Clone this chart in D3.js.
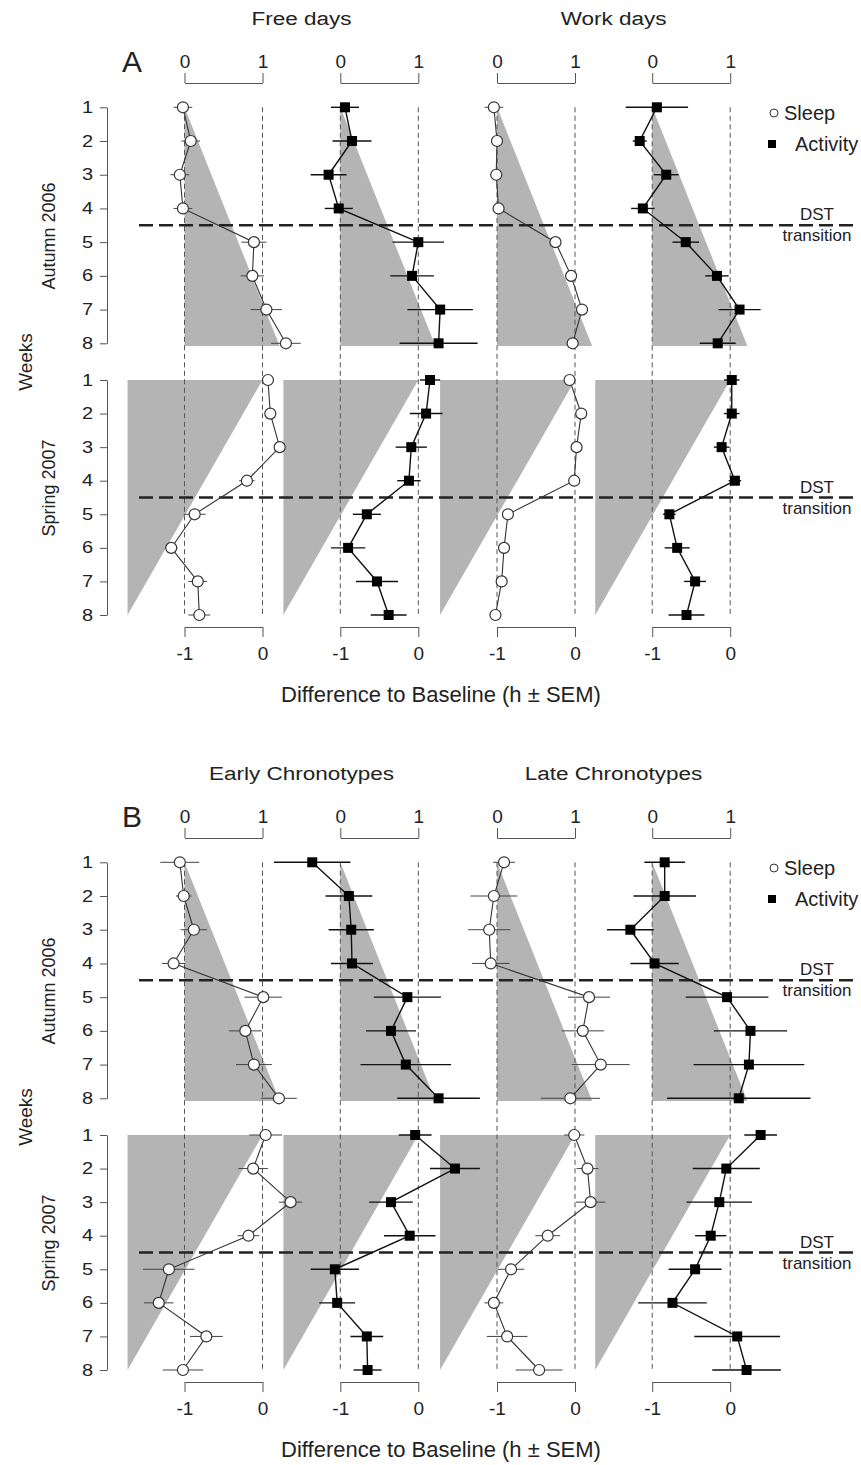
<!DOCTYPE html>
<html>
<head>
<meta charset="utf-8">
<script src="https://cdn.jsdelivr.net/npm/d3@7"></script>
<style>
  body { margin: 0; background: #fff; }
  svg { display: block; font-family: "Liberation Sans", Arial, sans-serif; }
  .tick line, .domain { stroke: #555; }
  text { fill: #222; }
</style>
</head>
<body>
<div id="chart"></div>
<script>
// weeks after baseline, one row per week
const weeks = [1, 2, 3, 4, 5, 6, 7, 8];
const panelLetters = ["A", "B"];
const panelTitles = [["Free days", "Work days"], ["Early Chronotypes", "Late Chronotypes"]];
const seasons = ["Autumn 2006", "Spring 2007"];
const topTicks = [0, 1];
const bottomTicks = [-1, 0];

// panel A -- autumn (h difference to baseline) and SEM
const aFreeSleepAut = [-0.02, 0.08, -0.06, -0.02, 0.89, 0.87, 1.05, 1.30];
const aFreeSleepAutSem = [0.12, 0.12, 0.12, 0.12, 0.16, 0.15, 0.20, 0.19];
const aFreeActAut = [0.06, 0.15, -0.15, -0.02, 1.00, 0.92, 1.28, 1.26];
const aFreeActAutSem = [0.18, 0.25, 0.23, 0.18, 0.33, 0.28, 0.42, 0.50];
const aWorkSleepAut = [-0.04, 0.00, -0.01, 0.02, 0.75, 0.95, 1.09, 0.97];
const aWorkSleepAutSem = [0.12, 0.04, 0.04, 0.05, 0.05, 0.05, 0.06, 0.05];
const aWorkActAut = [0.06, -0.16, 0.18, -0.12, 0.43, 0.83, 1.12, 0.84];
const aWorkActAutSem = [0.40, 0.09, 0.16, 0.15, 0.17, 0.15, 0.27, 0.23];
// panel A -- spring
const aFreeSleepSpr = [0.07, 0.10, 0.22, -0.20, -0.87, -1.17, -0.83, -0.81];
const aFreeSleepSprSem = [0.07, 0.06, 0.05, 0.10, 0.14, 0.08, 0.12, 0.14];
const aFreeActSpr = [0.15, 0.10, -0.09, -0.12, -0.66, -0.90, -0.53, -0.38];
const aFreeActSprSem = [0.13, 0.21, 0.20, 0.15, 0.18, 0.22, 0.27, 0.23];
const aWorkSleepSpr = [-0.07, 0.08, 0.02, -0.01, -0.86, -0.91, -0.94, -1.02];
const aWorkSleepSprSem = [0.06, 0.05, 0.04, 0.04, 0.05, 0.06, 0.07, 0.04];
const aWorkActSpr = [0.02, 0.02, -0.11, 0.06, -0.78, -0.68, -0.45, -0.56];
const aWorkActSprSem = [0.10, 0.10, 0.10, 0.08, 0.08, 0.16, 0.14, 0.23];

// panel B -- autumn
const bEarlySleepAut = [-0.06, -0.01, 0.12, -0.14, 1.01, 0.78, 0.89, 1.21];
const bEarlySleepAutSem = [0.25, 0.10, 0.17, 0.15, 0.24, 0.21, 0.23, 0.23];
const bEarlyActAut = [-0.36, 0.11, 0.14, 0.15, 0.86, 0.65, 0.84, 1.26];
const bEarlyActAutSem = [0.49, 0.30, 0.29, 0.27, 0.43, 0.32, 0.58, 0.53];
const bLateSleepAut = [0.09, -0.04, -0.10, -0.08, 1.18, 1.10, 1.33, 0.94];
const bLateSleepAutSem = [0.14, 0.30, 0.27, 0.24, 0.27, 0.27, 0.37, 0.38];
const bLateActAut = [0.16, 0.16, -0.28, 0.03, 0.96, 1.26, 1.24, 1.11];
const bLateActAutSem = [0.26, 0.40, 0.30, 0.31, 0.53, 0.47, 0.71, 0.92];
// panel B -- spring
const bEarlySleepSpr = [0.04, -0.12, 0.36, -0.18, -1.20, -1.33, -0.72, -1.02];
const bEarlySleepSprSem = [0.21, 0.19, 0.15, 0.14, 0.33, 0.19, 0.21, 0.26];
const bEarlyActSpr = [-0.04, 0.47, -0.35, -0.11, -1.07, -1.04, -0.66, -0.65];
const bEarlyActSprSem = [0.21, 0.32, 0.28, 0.33, 0.31, 0.23, 0.21, 0.18];
const bLateSleepSpr = [-0.01, 0.16, 0.20, -0.35, -0.82, -1.04, -0.87, -0.46];
const bLateSleepSprSem = [0.13, 0.14, 0.19, 0.16, 0.17, 0.12, 0.26, 0.30];
const bLateActSpr = [0.39, -0.05, -0.14, -0.25, -0.45, -0.74, 0.09, 0.21];
const bLateActSprSem = [0.21, 0.43, 0.42, 0.20, 0.34, 0.44, 0.55, 0.44];

// gray "expected shift" wedges
const autumnWedge = [[0, 1], [1.22, 8.08], [0, 8.08]];
const springWedge = [[-1.73, 1], [0, 1], [-1.73, 8]];

const panels = [
  { cols: [
    { kind: "sleep", aut: aFreeSleepAut, autSem: aFreeSleepAutSem, spr: aFreeSleepSpr, sprSem: aFreeSleepSprSem },
    { kind: "act", aut: aFreeActAut, autSem: aFreeActAutSem, spr: aFreeActSpr, sprSem: aFreeActSprSem },
    { kind: "sleep", aut: aWorkSleepAut, autSem: aWorkSleepAutSem, spr: aWorkSleepSpr, sprSem: aWorkSleepSprSem },
    { kind: "act", aut: aWorkActAut, autSem: aWorkActAutSem, spr: aWorkActSpr, sprSem: aWorkActSprSem }
  ]},
  { cols: [
    { kind: "sleep", aut: bEarlySleepAut, autSem: bEarlySleepAutSem, spr: bEarlySleepSpr, sprSem: bEarlySleepSprSem },
    { kind: "act", aut: bEarlyActAut, autSem: bEarlyActAutSem, spr: bEarlyActSpr, sprSem: bEarlyActSprSem },
    { kind: "sleep", aut: bLateSleepAut, autSem: bLateSleepAutSem, spr: bLateSleepSpr, sprSem: bLateSleepSprSem },
    { kind: "act", aut: bLateActAut, autSem: bLateActAutSem, spr: bLateActSpr, sprSem: bLateActSprSem }
  ]}
];

const W = 861, H = 1465;
const colX = [184.5, 340.3, 497, 652.2];
const unit = 78;
const panelOff = 755;

const svg = d3.select("#chart").append("svg")
  .attr("width", W).attr("height", H);
svg.append("rect").attr("width", W).attr("height", H).attr("fill", "#fff");

panels.forEach(function (panel, p) {
  const off = p * panelOff;
  const g = svg.append("g");

  const yAut = d3.scaleLinear().domain([1, 8]).range([107.3 + off, 343.3 + off]);
  const ySpr = d3.scaleLinear().domain([1, 8]).range([380 + off, 615 + off]);

  // titles + letter
  [0, 1].forEach(function (k) {
    const cx = (colX[k * 2] + colX[k * 2 + 1] + unit) / 2;
    g.append("text")
      .attr("transform", "translate(" + cx + "," + (25 + off) + ") scale(1,0.8)")
      .attr("text-anchor", "middle")
      .style("font-size", "22.5px")
      .text(panelTitles[p][k]);
  });
  g.append("text")
    .attr("x", 132).attr("y", 72 + off)
    .attr("text-anchor", "middle")
    .style("font-size", "30px")
    .text(panelLetters[p]);

  // wedges first
  colX.forEach(function (x0) {
    const xa = d3.scaleLinear().domain([0, 1]).range([x0, x0 + unit]);
    const xs = d3.scaleLinear().domain([-1, 0]).range([x0, x0 + unit]);
    g.append("path")
      .attr("d", d3.line().x(d => xa(d[0])).y(d => yAut(d[1]))(autumnWedge) + "Z")
      .attr("fill", "#b4b4b4");
    g.append("path")
      .attr("d", d3.line().x(d => xs(d[0])).y(d => ySpr(d[1]))(springWedge) + "Z")
      .attr("fill", "#b4b4b4");
  });

  // vertical reference lines
  colX.forEach(function (x0) {
    [x0, x0 + unit].forEach(function (vx) {
      g.append("line")
        .attr("x1", vx).attr("x2", vx)
        .attr("y1", yAut(1)).attr("y2", ySpr(8))
        .attr("stroke", "#555").attr("stroke-width", 1)
        .attr("stroke-dasharray", "5,3.5");
    });
  });

  // DST lines
  [yAut(4.5), ySpr(4.5)].forEach(function (ly) {
    g.append("line")
      .attr("x1", 139).attr("x2", 858)
      .attr("y1", ly).attr("y2", ly)
      .attr("stroke", "#222").attr("stroke-width", 2.5)
      .attr("stroke-dasharray", "14,6");
    g.append("text").attr("x", 817).attr("y", ly - 5)
      .attr("text-anchor", "middle").style("font-size", "17px").text("DST");
    g.append("text").attr("x", 817).attr("y", ly + 16)
      .attr("text-anchor", "middle").style("font-size", "17px").text("transition");
  });

  // axes
  colX.forEach(function (x0) {
    const xa = d3.scaleLinear().domain([0, 1]).range([x0, x0 + unit]);
    const xs = d3.scaleLinear().domain([-1, 0]).range([x0, x0 + unit]);
    const top = g.append("g")
      .attr("transform", "translate(0," + (83 + off) + ")")
      .call(d3.axisTop(xa).tickValues(topTicks).tickSize(10).tickSizeOuter(0).tickPadding(5).tickFormat(d => String(d)));
    const bot = g.append("g")
      .attr("transform", "translate(0," + (627 + off) + ")")
      .call(d3.axisBottom(xs).tickValues(bottomTicks).tickSize(10).tickSizeOuter(0).tickPadding(10).tickFormat(d => String(d)));
    [top, bot].forEach(function (ax) {
      ax.selectAll("text").style("font-size", "19px").attr("fill", "#222");
      ax.select(".domain").attr("stroke", "#555");
      ax.selectAll(".tick line").attr("stroke", "#555");
    });
  });

  [yAut, ySpr].forEach(function (ys) {
    const ax = g.append("g")
      .attr("transform", "translate(107,0)")
      .call(d3.axisLeft(ys).tickValues(weeks).tickSize(7).tickSizeOuter(0).tickPadding(7).tickFormat(d => String(d)));
    ax.selectAll("text").style("font-size", "20px").attr("fill", "#222")
      .attr("transform", "scale(1,0.8)");
    ax.select(".domain").attr("stroke", "#555");
    ax.selectAll(".tick line").attr("stroke", "#555");
  });

  // season labels
  [[seasons[0], 236], [seasons[1], 488]].forEach(function (s) {
    g.append("text")
      .attr("transform", "translate(55," + (s[1] + off) + ") rotate(-90)")
      .attr("text-anchor", "middle")
      .style("font-size", "18px")
      .text(s[0]);
  });
  g.append("text")
    .attr("transform", "translate(32," + (362 + off) + ") rotate(-90)")
    .attr("text-anchor", "middle")
    .style("font-size", "19px")
    .text("Weeks");

  g.append("text")
    .attr("x", 441).attr("y", 702 + off)
    .attr("text-anchor", "middle")
    .style("font-size", "22px")
    .text("Difference to Baseline (h \u00b1 SEM)");

  // series
  panel.cols.forEach(function (col, c) {
    const x0 = colX[c];
    const xa = d3.scaleLinear().domain([0, 1]).range([x0, x0 + unit]);
    const xs = d3.scaleLinear().domain([-1, 0]).range([x0, x0 + unit]);
    const isSleep = col.kind === "sleep";
    const sets = [
      { x: xa, y: yAut, v: col.aut, e: col.autSem },
      { x: xs, y: ySpr, v: col.spr, e: col.sprSem }
    ];
    sets.forEach(function (s) {
      const pts = weeks.map((w, i) => ({ w: w, v: s.v[i], e: s.e[i] }));
      const sg = g.append("g");
      sg.selectAll("line.err").data(pts).enter().append("line")
        .attr("class", "err")
        .attr("x1", d => s.x(d.v - d.e)).attr("x2", d => s.x(d.v + d.e))
        .attr("y1", d => s.y(d.w)).attr("y2", d => s.y(d.w))
        .attr("stroke", isSleep ? "#444" : "#111")
        .attr("stroke-width", isSleep ? 1 : 1.4);
      sg.append("path")
        .datum(pts)
        .attr("d", d3.line().x(d => s.x(d.v)).y(d => s.y(d.w)))
        .attr("fill", "none")
        .attr("stroke", isSleep ? "#333" : "#111")
        .attr("stroke-width", isSleep ? 1.1 : 1.4);
      if (isSleep) {
        sg.selectAll("circle").data(pts).enter().append("circle")
          .attr("cx", d => s.x(d.v)).attr("cy", d => s.y(d.w))
          .attr("r", 5.5)
          .attr("fill", "#fff").attr("stroke", "#333").attr("stroke-width", 1.2);
      } else {
        sg.selectAll("rect").data(pts).enter().append("rect")
          .attr("x", d => s.x(d.v) - 5).attr("y", d => s.y(d.w) - 5)
          .attr("width", 10).attr("height", 10)
          .attr("fill", "#000");
      }
    });
  });

  // legend
  g.append("circle").attr("cx", 774).attr("cy", 113 + off).attr("r", 4)
    .attr("fill", "#fff").attr("stroke", "#333").attr("stroke-width", 1);
  g.append("text").attr("x", 784).attr("y", 120 + off)
    .style("font-size", "20px").text("Sleep");
  g.append("rect").attr("x", 768).attr("y", 140 + off).attr("width", 8).attr("height", 8)
    .attr("fill", "#000");
  g.append("text").attr("x", 795).attr("y", 151 + off)
    .style("font-size", "20px").text("Activity");
});
</script>
</body>
</html>
